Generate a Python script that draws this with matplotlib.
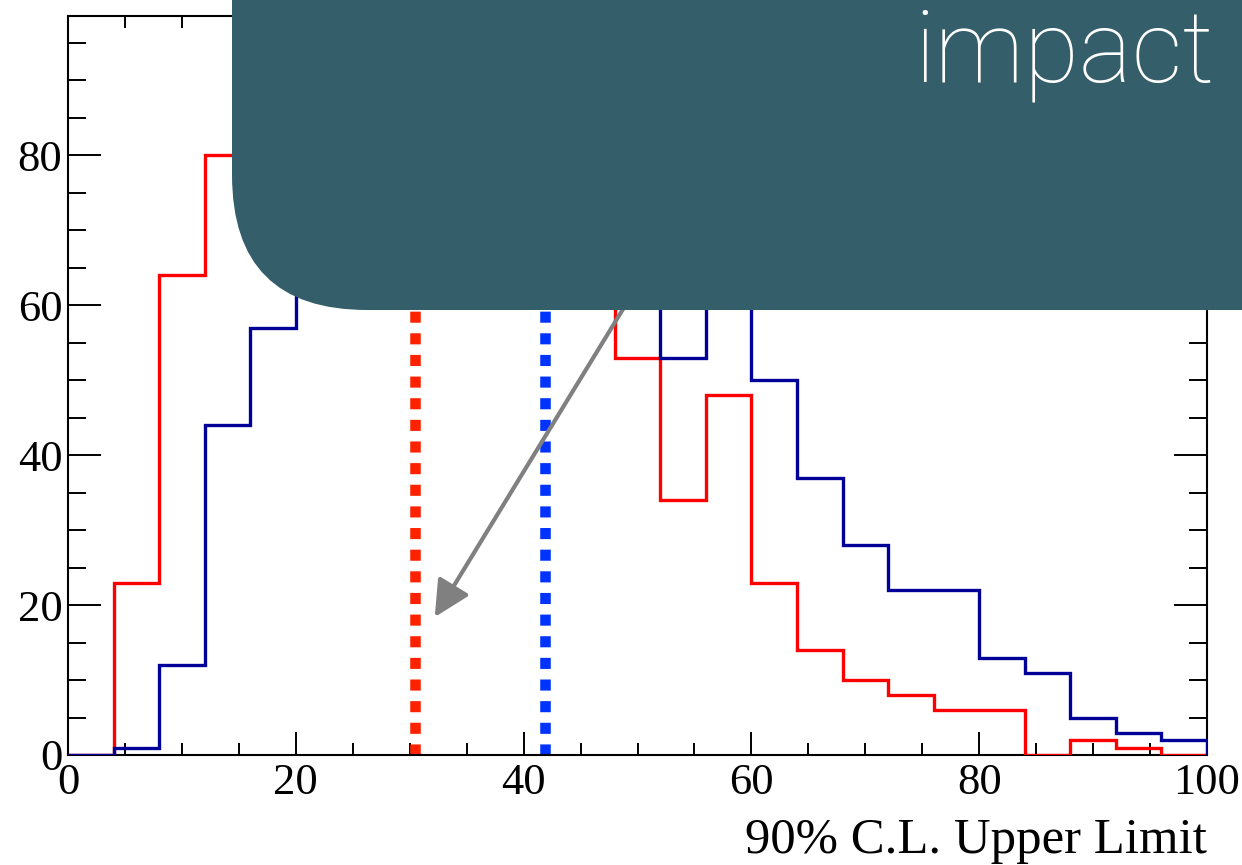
import numpy as np
import matplotlib.pyplot as plt
from matplotlib.patches import FancyBboxPatch
from matplotlib.ticker import MultipleLocator

# bin edges (4-unit bins from 0 to 100)
edges = np.arange(0, 104, 4)

# counts per bin (bins hidden by the box are estimates)
red_counts = [0, 23, 64, 80, 90, 84, 78, 72, 68, 64, 62, 61,
              53, 34, 48, 23, 14, 10, 8, 6, 6, 0, 2, 1, 0]
blue_counts = [0, 1, 12, 44, 57, 66, 76, 84, 90, 94, 88, 80,
               72, 53, 66, 50, 37, 28, 22, 22, 13, 11, 5, 3, 2]

red_limit = 30.5
blue_limit = 41.9

HIST_RED = "#ff0000"
HIST_BLUE = "#000099"
DOT_RED = "#ff2200"
DOT_BLUE = "#0033ff"
BOX = "#355e6b"
SERIF = ["Liberation Serif", "DejaVu Serif"]

fig = plt.figure(figsize=(12.42, 8.65), dpi=100)
ax = fig.add_axes([68 / 1242, 110 / 865, 1139 / 1242, 739.3 / 865])

ax.stairs(red_counts, edges, color=HIST_RED, lw=2.4, zorder=3)
ax.stairs(blue_counts, edges, color=HIST_BLUE, lw=2.4, zorder=4)

dots = (0, (1.05, 1.0))
ax.axvline(red_limit, ymax=0.995, color=DOT_RED, lw=7.6, ls=dots, zorder=2)
ax.axvline(blue_limit, ymax=0.995, color=DOT_BLUE, lw=7.6, ls=dots, zorder=2)

ax.annotate("", xy=(32.2, 18.4), xytext=(52.0, 67.6),
            arrowprops=dict(arrowstyle="-|>,head_length=1.1,head_width=0.55",
                            mutation_scale=20, color="#808080", lw=3.0,
                            shrinkA=0, shrinkB=0),
            zorder=5)

ax.set_xlim(0, 100)
ax.set_ylim(0, 98.6)
ax.xaxis.set_major_locator(MultipleLocator(20))
ax.xaxis.set_minor_locator(MultipleLocator(5))
ax.yaxis.set_major_locator(MultipleLocator(20))
ax.yaxis.set_minor_locator(MultipleLocator(5))
ax.tick_params(which="both", direction="in", top=True, right=True, width=1.4, color="black")
ax.tick_params(axis="x", which="major", length=16.5, pad=6)
ax.tick_params(axis="x", which="minor", length=8.6)
ax.tick_params(axis="y", which="major", length=24, pad=4)
ax.tick_params(axis="y", which="minor", length=13)
for s in ax.spines.values():
    s.set_linewidth(1.5)
for lab in ax.get_xticklabels() + ax.get_yticklabels():
    lab.set_fontfamily(SERIF)
    lab.set_fontsize(32)
ax.set_xlabel("90% C.L. Upper Limit", fontsize=36.5, family=SERIF, loc="right", labelpad=10)

# overlay box
ov = fig.add_axes([0, 0, 1, 1], zorder=10)
ov.set_xlim(0, 1242)
ov.set_ylim(865, 0)
ov.axis("off")
ov.patch.set_alpha(0)
ov.add_patch(FancyBboxPatch((232, -300), 1300, 610,
                            boxstyle="round,pad=0,rounding_size=135",
                            facecolor=BOX, edgecolor="none"))
ov.text(1214, 82, "impact", color="white", fontsize=72, family="Roboto",
        fontweight="light", ha="right", va="baseline")

fig.savefig("out.png", dpi=100)
